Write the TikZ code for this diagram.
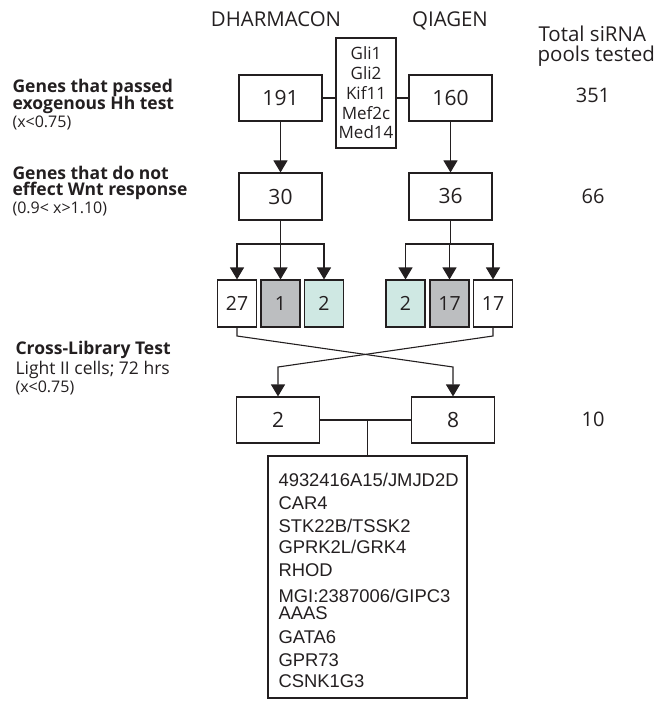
\documentclass[tikz,border=0pt]{standalone}
\usepackage{fontspec}
\setmainfont{Open Sans}
\newfontfamily\arialfont{Liberation Sans}
\usetikzlibrary{arrows.meta}
\definecolor{boxgray}{HTML}{BCBEC0}
\definecolor{boxteal}{HTML}{CFE8E3}
\definecolor{inkc}{HTML}{231F20}
\newcommand{\fsz}[1]{\fontsize{#1}{#1}\selectfont}
\newcommand{\glifont}{\fontsize{17}{19.75}\selectfont}
\begin{document}
\begin{tikzpicture}[x=1pt,y=-1pt,line width=1.1pt,draw=inkc,text=inkc,
  numbox/.style={draw=inkc,inner sep=0pt,minimum width=83pt,minimum height=46pt,font=\fsz{21}},
  smallbox/.style={draw=inkc,inner sep=0pt,minimum width=39pt,minimum height=47pt,font=\fsz{19.5}},
  arr/.style={-{Triangle[width=14pt,length=12pt]}},
  lbl/.style={anchor=base west,inner sep=0pt},
  headb/.style={lbl,font=\bfseries\fsz{17.5}},
  subl/.style={lbl,font=\fsz{16}},
  colhead/.style={anchor=base,inner sep=0pt,font=\fsz{20.4}},
  total/.style={anchor=base,inner sep=0pt,font=\fsz{20}},
  totl/.style={anchor=base west,inner sep=0pt,font=\fsz{20.5}},
  gene/.style={anchor=base west,inner sep=0pt,font=\arialfont\fsz{18.4}}]
\useasboundingbox (0,0) rectangle (671,708);

% column headings
\node[colhead] (dh) at (276,27) {DHARMACON};
\node[colhead] (qi) at (450,27) {QIAGEN};
\node[totl] (tot1) at (538,42) {Total siRNA};
\node[totl] (tot2) at (537,62) {pools tested};

% left labels
\node[headb] (l1a) at (12,93) {Genes that passed};
\node[headb] (l1b) at (12,110) {exogenous Hh test};
\node[subl] (l1c) at (12,128) {(x<0.75)};
\node[headb] (l2a) at (12,180) {Genes that do not};
\node[headb] (l2b) at (12,196) {effect Wnt response};
\node[subl] (l2c) at (12,214) {(0.9< x>1.10)};
\node[headb] (l3a) at (15,354) {Cross-Library Test};
\node[lbl,font=\fsz{17.5}] (l3b) at (15,374) {Light II cells; 72 hrs};
\node[subl] (l3c) at (15,392) {(x<0.75)};

% totals
\node[total] (t1) at (593,103) {351};
\node[total] (t2) at (593,204) {66};
\node[total] (t3) at (593,426) {10};

% row 1
\node[numbox] (b191) at (280.5,98) {191};
\node[numbox] (b160) at (450.5,98) {160};
\node[draw=inkc,inner sep=0pt,minimum width=60pt,minimum height=110pt,align=center,
      font=\glifont] (gli) at (366,93) {Gli1\\Gli2\\Kif11\\Mef2c\\Med14};
\draw (b191.east) -- (gli.west |- b191.east);
\draw (b160.west) -- (gli.east |- b160.west);

% row 2
\node[numbox,minimum height=47pt] (b30) at (280.5,196.5) {30};
\node[numbox,minimum height=47pt] (b36) at (450.5,196.5) {36};
\draw[arr] (b191) -- (b30);
\draw[arr] (b160) -- (b36);

% row 3
\node[smallbox] (s1) at (237,303.5) {27};
\node[smallbox,fill=boxgray] (s2) at (280.5,303.5) {1};
\node[smallbox,fill=boxteal] (s3) at (324,303.5) {2};
\node[smallbox,fill=boxteal] (s4) at (405.5,303.5) {2};
\node[smallbox,fill=boxgray] (s5) at (449.5,303.5) {17};
\node[smallbox] (s6) at (493,303.5) {17};

\coordinate (j1) at (280.5,244);
\coordinate (j2) at (450.5,244);
\draw (b30) -- (j1);
\draw[arr] (j1) -| (s1.north);
\draw[arr] (j1) -- (s2.north);
\draw[arr] (j1) -| (s3.north);
\draw (b36) -- (j2);
\draw[arr] (j2) -| (s4.north);
\draw[arr] (j2) -| (s5.north);
\draw[arr] (j2) -| (s6.north);

% row 4
\node[numbox] (b2) at (278,420) {2};
\node[numbox] (b8) at (453,420) {8};
\coordinate (c1) at (237,336);
\coordinate (c2) at (493,336);
\draw[arr] (s1.south) -- (c1) -- (b8.north |- 0,367) -- (b8.north);
\draw[arr] (s6.south) -- (c2) -- (b2.north |- 0,367) -- (b2.north);

% gene list
\node[draw=inkc,inner sep=0pt,minimum width=199pt,minimum height=242pt] (list) at (367.5,577) {};
\draw (b2.east) -- (b8.west);
\draw (list.north) -- (list.north |- b2.east);
\node[gene] (g1) at (278,486) {4932416A15/JMJD2D};
\node[gene] (g2) at (278,509) {CAR4};
\node[gene] (g3) at (278,532) {STK22B/TSSK2};
\node[gene] (g4) at (278,553) {GPRK2L/GRK4};
\node[gene] (g5) at (278,576) {RHOD};
\node[gene] (g6) at (278,602) {MGI:2387006/GIPC3};
\node[gene] (g7) at (278,619) {AAAS};
\node[gene] (g8) at (278,643) {GATA6};
\node[gene] (g9) at (278,666) {GPR73};
\node[gene] (g10) at (278,687) {CSNK1G3};
\end{tikzpicture}
\end{document}
